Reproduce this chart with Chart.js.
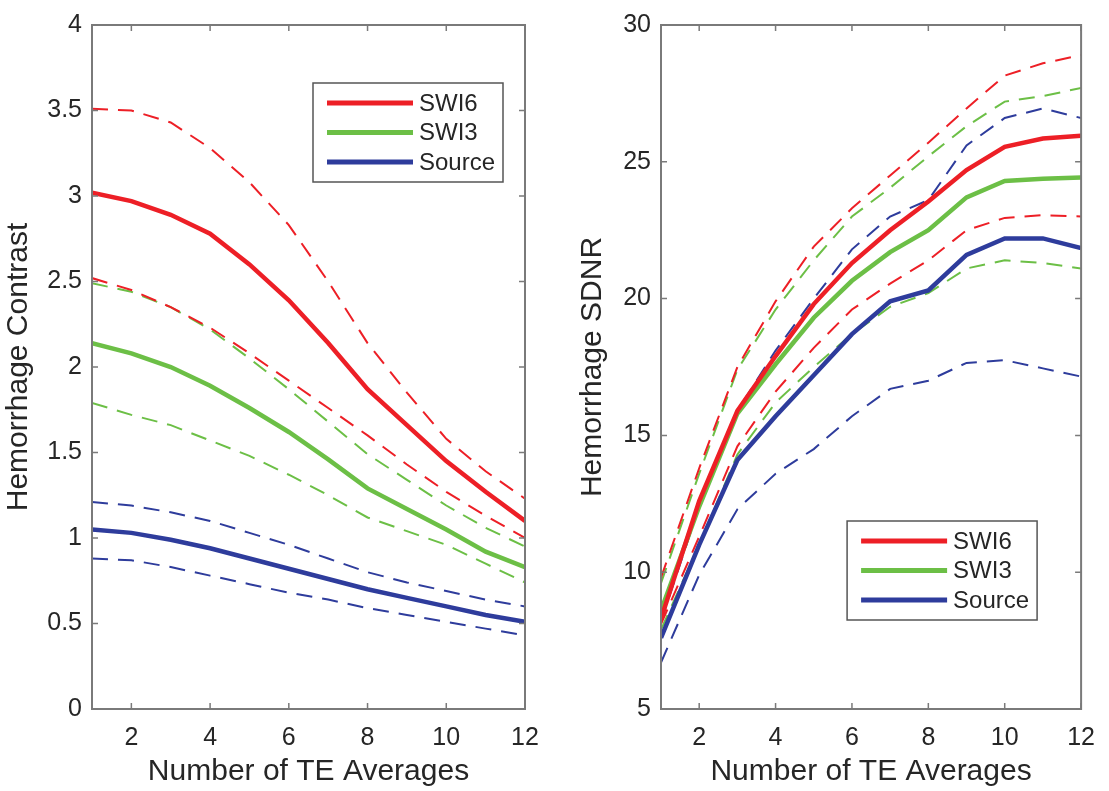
<!DOCTYPE html>
<html>
<head>
<meta charset="utf-8">
<script src="https://cdn.jsdelivr.net/npm/chart.js@4.4.1/dist/chart.umd.min.js"></script>
<style>
  html, body { margin: 0; padding: 0; background: #ffffff; }
  body { width: 1109px; height: 791px; position: relative; overflow: hidden; }
  canvas { position: absolute; top: 0; }
  #left { left: 0; }
  #right { left: 555px; }
</style>
</head>
<body>
<canvas id="left" width="555" height="791"></canvas>
<canvas id="right" width="554" height="791"></canvas>
<script>
// ---- Data ----
const teAverages = [1, 2, 3, 4, 5, 6, 7, 8, 9, 10, 11, 12];
const xTickLabels = [2, 4, 6, 8, 10, 12];
const contrastTicks = [0, 0.5, 1, 1.5, 2, 2.5, 3, 3.5, 4];
const sdnrTicks = [5, 10, 15, 20, 25, 30];
const seriesNames = ['SWI6', 'SWI3', 'Source'];

// Left panel: Hemorrhage Contrast
const contrastSWI6      = [3.02, 2.97, 2.89, 2.78, 2.60, 2.39, 2.14, 1.87, 1.66, 1.45, 1.27, 1.10];
const contrastSWI6Upper = [3.51, 3.50, 3.43, 3.28, 3.08, 2.83, 2.50, 2.14, 1.85, 1.58, 1.39, 1.23];
const contrastSWI6Lower = [2.52, 2.45, 2.35, 2.23, 2.08, 1.92, 1.76, 1.60, 1.43, 1.27, 1.13, 1.00];
const contrastSWI3      = [2.14, 2.08, 2.00, 1.89, 1.76, 1.62, 1.46, 1.29, 1.17, 1.05, 0.92, 0.83];
const contrastSWI3Upper = [2.49, 2.44, 2.35, 2.22, 2.05, 1.87, 1.68, 1.49, 1.34, 1.19, 1.06, 0.95];
const contrastSWI3Lower = [1.79, 1.72, 1.66, 1.57, 1.48, 1.37, 1.25, 1.12, 1.04, 0.96, 0.85, 0.74];
const contrastSource      = [1.05, 1.03, 0.99, 0.94, 0.88, 0.82, 0.76, 0.70, 0.65, 0.60, 0.55, 0.51];
const contrastSourceUpper = [1.21, 1.19, 1.15, 1.10, 1.03, 0.96, 0.88, 0.80, 0.74, 0.69, 0.64, 0.60];
const contrastSourceLower = [0.88, 0.87, 0.83, 0.78, 0.73, 0.68, 0.64, 0.59, 0.55, 0.51, 0.47, 0.43];

// Right panel: Hemorrhage SDNR
const sdnrSWI6      = [8.3, 12.6, 15.9, 17.9, 19.8, 21.3, 22.5, 23.55, 24.7, 25.55, 25.85, 25.95];
const sdnrSWI6Upper = [9.8, 13.8, 17.5, 19.9, 21.9, 23.3, 24.5, 25.7, 26.95, 28.15, 28.6, 28.9];
const sdnrSWI6Lower = [8.1, 11.3, 14.6, 16.6, 18.2, 19.6, 20.55, 21.4, 22.5, 22.95, 23.05, 23.0];
const sdnrSWI3      = [8.6, 12.4, 15.8, 17.6, 19.3, 20.65, 21.7, 22.5, 23.7, 24.3, 24.38, 24.43];
const sdnrSWI3Upper = [9.6, 13.6, 17.4, 19.6, 21.4, 23.0, 24.05, 25.2, 26.3, 27.2, 27.4, 27.7];
const sdnrSWI3Lower = [7.9, 11.0, 14.3, 16.2, 17.5, 18.7, 19.7, 20.2, 21.1, 21.4, 21.3, 21.1];
const sdnrSource      = [7.6, 11.0, 14.1, 15.7, 17.2, 18.7, 19.9, 20.3, 21.6, 22.2, 22.2, 21.85];
const sdnrSourceUpper = [8.2, 12.4, 15.9, 18.1, 20.0, 21.8, 23.0, 23.6, 25.6, 26.6, 26.95, 26.6];
const sdnrSourceLower = [6.7, 9.9, 12.3, 13.6, 14.5, 15.7, 16.7, 17.0, 17.65, 17.75, 17.45, 17.15];

// ---- Styles ----
const COLORS = { SWI6: '#ed1f26', SWI3: '#6cbf46', Source: '#2e3c9c' };
const FONT = '"Liberation Sans", Arial, Helvetica, sans-serif';
const TEXT = '#262626';
const FRAME = '#7a7a7a';

function pts(ys) { return teAverages.map((x, i) => ({ x: x, y: ys[i] })); }

function solid(name, ys) {
  return { label: name, data: pts(ys), borderColor: COLORS[name], borderWidth: 4.5,
           pointRadius: 0, tension: 0, fill: false, showInLegend: true };
}
function dashed(name, ys) {
  return { label: name + ' bound', data: pts(ys), borderColor: COLORS[name], borderWidth: 2,
           borderDash: [16, 10], pointRadius: 0, tension: 0, fill: false, showInLegend: false };
}

// frame + inward ticks + legend
const framePlugin = {
  id: 'frame',
  afterDatasetsDraw(chart, args, opts) {
    const { ctx, chartArea: a } = chart;
    const xs = chart.scales.x, ys = chart.scales.y;
    ctx.save();
    ctx.strokeStyle = FRAME;
    ctx.lineWidth = 2;
    ctx.strokeRect(a.left, a.top, a.right - a.left, a.bottom - a.top);
    ctx.lineWidth = 1.5;
    const tl = 6;
    ctx.beginPath();
    xTickLabels.forEach(v => {
      const px = xs.getPixelForValue(v);
      ctx.moveTo(px, a.bottom); ctx.lineTo(px, a.bottom - tl);
      ctx.moveTo(px, a.top); ctx.lineTo(px, a.top + tl);
    });
    opts.yTicks.forEach(v => {
      const py = ys.getPixelForValue(v);
      ctx.moveTo(a.left, py); ctx.lineTo(a.left + tl, py);
      ctx.moveTo(a.right, py); ctx.lineTo(a.right - tl, py);
    });
    ctx.stroke();

    // legend
    const L = opts.legend;
    const bx = a.right - L.fromRight - L.w;
    const by = L.fromTop != null ? a.top + L.fromTop : a.bottom - L.fromBottom - L.h;
    ctx.fillStyle = '#ffffff';
    ctx.fillRect(bx, by, L.w, L.h);
    ctx.strokeStyle = '#555555';
    ctx.lineWidth = 1.5;
    ctx.strokeRect(bx, by, L.w, L.h);
    const items = chart.data.datasets.filter(d => d.showInLegend);
    items.forEach((d, i) => {
      const cy = by + 20 + i * 29.5;
      ctx.strokeStyle = d.borderColor;
      ctx.lineWidth = 5;
      ctx.setLineDash([]);
      ctx.beginPath();
      ctx.moveTo(bx + 14, cy); ctx.lineTo(bx + 100, cy);
      ctx.stroke();
      ctx.fillStyle = TEXT;
      ctx.font = '24px ' + FONT;
      ctx.textBaseline = 'middle';
      ctx.textAlign = 'left';
      ctx.fillText(d.label, bx + 106, cy + 1);
    });
    ctx.restore();
  }
};

function makeChart(id, datasets, yMin, yMax, yTicks, yTitle, padRight, yWidth, yTitlePad, legendOpts) {
  return new Chart(document.getElementById(id), {
    type: 'line',
    data: { datasets: datasets },
    plugins: [framePlugin],
    options: {
      responsive: false,
      animation: false,
      devicePixelRatio: 1,
      layout: { padding: { left: 0, top: 19, right: padRight, bottom: 0 } },
      plugins: {
        legend: { display: false },
        tooltip: { enabled: false },
        frame: { yTicks: yTicks, legend: legendOpts }
      },
      scales: {
        x: {
          type: 'linear', min: 1, max: 12,
          afterBuildTicks: s => { s.ticks = xTickLabels.map(v => ({ value: v })); },
          afterFit: s => { s.height = 82; },
          grid: { display: false, drawTicks: false },
          border: { display: false },
          ticks: { color: TEXT, font: { family: FONT, size: 25 }, padding: 14, maxRotation: 0,
                   autoSkip: false, callback: v => String(v) },
          title: { display: true, text: 'Number of TE Averages', color: TEXT,
                   font: { family: FONT, size: 30 }, padding: { top: 0, bottom: 1 } }
        },
        y: {
          type: 'linear', min: yMin, max: yMax,
          afterBuildTicks: s => { s.ticks = yTicks.map(v => ({ value: v })); },
          afterFit: s => { s.width = yWidth; },
          grid: { display: false, drawTicks: false },
          border: { display: false },
          ticks: { color: TEXT, font: { family: FONT, size: 25 }, padding: 10, autoSkip: false,
                   callback: v => String(v) },
          title: { display: true, text: yTitle, color: TEXT,
                   font: { family: FONT, size: 30 }, padding: { top: yTitlePad, bottom: 0 } }
        }
      }
    }
  });
}

makeChart('left', [
  solid('SWI6', contrastSWI6), solid('SWI3', contrastSWI3), solid('Source', contrastSource),
  dashed('SWI6', contrastSWI6Upper), dashed('SWI6', contrastSWI6Lower),
  dashed('SWI3', contrastSWI3Upper), dashed('SWI3', contrastSWI3Lower),
  dashed('Source', contrastSourceUpper), dashed('Source', contrastSourceLower)
], 0, 4, contrastTicks, 'Hemorrhage Contrast', 30, 92, 1,
  { w: 190, h: 99, fromRight: 22, fromTop: 58 });

makeChart('right', [
  solid('SWI6', sdnrSWI6), solid('SWI3', sdnrSWI3), solid('Source', sdnrSource),
  dashed('SWI6', sdnrSWI6Upper), dashed('SWI6', sdnrSWI6Lower),
  dashed('SWI3', sdnrSWI3Upper), dashed('SWI3', sdnrSWI3Lower),
  dashed('Source', sdnrSourceUpper), dashed('Source', sdnrSourceLower)
], 5, 30, sdnrTicks, 'Hemorrhage SDNR', 16, 106, 20,
  { w: 190, h: 99, fromRight: 44, fromBottom: 89 });
</script>
</body>
</html>
